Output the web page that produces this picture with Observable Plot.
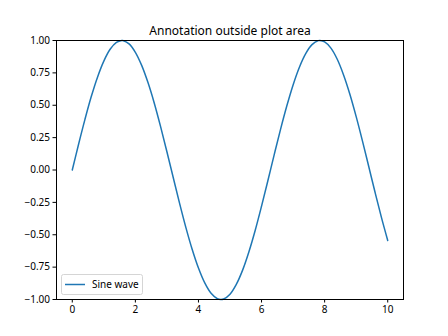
<!DOCTYPE html>
<html>
<head>
<meta charset="utf-8">
<script src="https://cdn.jsdelivr.net/npm/d3@7"></script>
<script src="https://cdn.jsdelivr.net/npm/@observablehq/plot@0.6"></script>
<style>
  html, body { margin: 0; padding: 0; background: #fff; }
  svg { font-family: "Noto Sans", "DejaVu Sans", sans-serif; }
</style>
</head>
<body>
<div id="chart"></div>
<script>
const xs = [0, 0.2, 0.4, 0.6, 0.8, 1.0, 1.2, 1.4, 1.57, 1.6, 1.8, 2.0, 2.2, 2.4, 2.6, 2.8, 3.0,
  3.2, 3.4, 3.6, 3.8, 4.0, 4.2, 4.4, 4.6, 4.71, 4.8, 5.0, 5.2, 5.4, 5.6, 5.8, 6.0,
  6.2, 6.4, 6.6, 6.8, 7.0, 7.2, 7.4, 7.6, 7.8, 7.85, 8.0, 8.2, 8.4, 8.6, 8.8, 9.0,
  9.2, 9.4, 9.6, 9.8, 10.0];
const ys = [0, 0.199, 0.389, 0.565, 0.717, 0.841, 0.932, 0.985, 1.0, 0.9996, 0.974, 0.909, 0.808, 0.675, 0.516, 0.335, 0.141,
  -0.058, -0.256, -0.443, -0.612, -0.757, -0.872, -0.952, -0.994, -1.0, -0.996, -0.959, -0.883, -0.773, -0.631, -0.465, -0.279,
  -0.083, 0.117, 0.312, 0.494, 0.657, 0.794, 0.899, 0.968, 0.999, 1.0, 0.989, 0.941, 0.855, 0.734, 0.585, 0.412,
  0.223, 0.025, -0.174, -0.366, -0.544];
const xTicks = [0, 2, 4, 6, 8, 10];
const yTicks = [-1, -0.75, -0.5, -0.25, 0, 0.25, 0.5, 0.75, 1];
const titleText = "Annotation outside plot area";
const seriesName = "Sine wave";

const data = xs.map((x, i) => ({x, y: ys[i]}));
const color = "#1f77b4";

function legend(index, scales, values, dims) {
  const g = d3.create("svg:g");
  const x0 = dims.marginLeft + 5, y1 = dims.height - dims.marginBottom - 5;
  const w = 81, h = 20;
  g.append("rect").attr("x", x0 + 0.5).attr("y", y1 - h + 0.5).attr("width", w).attr("height", h)
    .attr("rx", 2).attr("fill", "white").attr("fill-opacity", 0.8).attr("stroke", "#d5d5d5");
  g.append("line").attr("x1", x0 + 4).attr("x2", x0 + 24).attr("y1", y1 - h / 2 + 0.5).attr("y2", y1 - h / 2 + 0.5)
    .attr("stroke", color).attr("stroke-width", 1.5);
  g.append("text").attr("x", x0 + 31).attr("y", y1 - h / 2 + 0.5).attr("dy", "0.35em")
    .attr("text-anchor", "start").attr("font-size", 10).attr("fill", "black").text(seriesName);
  return g.node();
}

const plot = Plot.plot({
  width: 448,
  height: 336,
  marginLeft: 56,
  marginRight: 45,
  marginTop: 40,
  marginBottom: 37,
  style: {fontSize: "10px", color: "black", background: "white"},
  x: {domain: [-0.5, 10.5], ticks: xTicks, tickSize: 3.5, tickPadding: 3, label: null},
  y: {domain: [-1, 1], ticks: yTicks, tickSize: 3.5, tickPadding: 3, tickFormat: d3.format(".2f"), label: null},
  marks: [
    Plot.line(data, {x: "x", y: "y", stroke: color, strokeWidth: 1.5, curve: "catmull-rom"}),
    Plot.frame({stroke: "black", strokeWidth: 1}),
    Plot.axisX({ticks: xTicks, tickSize: 3.5, tickPadding: 3, label: null}),
    Plot.axisY({ticks: yTicks, tickSize: 3.5, tickPadding: 3, tickFormat: d3.format(".2f"), label: null}),
    Plot.text([titleText], {frameAnchor: "top", text: d => d, lineAnchor: "bottom", dy: -6, fontSize: 12, fill: "black"}),
    legend
  ]
});
document.getElementById("chart").appendChild(plot);
</script>
</body>
</html>
